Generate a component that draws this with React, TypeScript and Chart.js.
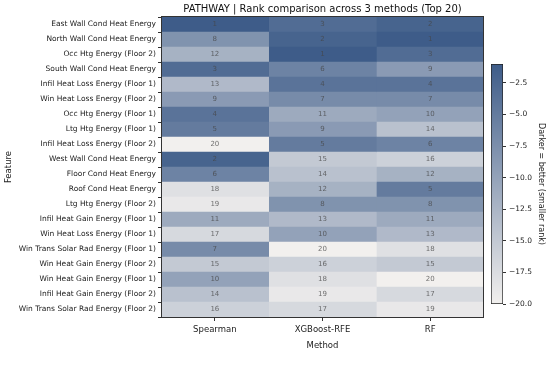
import React, { useEffect, useRef } from "react";
import { Chart, registerables } from "chart.js";

Chart.register(...registerables);

const features = [
  "East Wall Cond Heat Energy",
  "North Wall Cond Heat Energy",
  "Occ Htg Energy (Floor 2)",
  "South Wall Cond Heat Energy",
  "Infil Heat Loss Energy (Floor 1)",
  "Win Heat Loss Energy (Floor 2)",
  "Occ Htg Energy (Floor 1)",
  "Ltg Htg Energy (Floor 1)",
  "Infil Heat Loss Energy (Floor 2)",
  "West Wall Cond Heat Energy",
  "Floor Cond Heat Energy",
  "Roof Cond Heat Energy",
  "Ltg Htg Energy (Floor 2)",
  "Infil Heat Gain Energy (Floor 1)",
  "Win Heat Loss Energy (Floor 1)",
  "Win Trans Solar Rad Energy (Floor 1)",
  "Win Heat Gain Energy (Floor 2)",
  "Win Heat Gain Energy (Floor 1)",
  "Infil Heat Gain Energy (Floor 2)",
  "Win Trans Solar Rad Energy (Floor 2)",
];

const methods = ["Spearman", "XGBoost-RFE", "RF"];

const spearmanRank = [1, 8, 12, 3, 13, 9, 4, 5, 20, 2, 6, 18, 19, 11, 17, 7, 15, 10, 14, 16];
const xgbRank = [3, 2, 1, 6, 4, 7, 11, 9, 5, 15, 14, 12, 8, 13, 10, 20, 16, 18, 19, 17];
const rfRank = [2, 1, 3, 9, 4, 7, 10, 14, 6, 16, 12, 5, 8, 11, 13, 18, 15, 20, 17, 19];

const colorbarTicks = [-20, -17.5, -15, -12.5, -10, -7.5, -5, -2.5];

const LIGHT = [242, 240, 238];
const DARK = [62, 92, 137];
const VMIN = -20;
const VMAX = -1;

function colorFor(v: number): string {
  const t = Math.max(0, Math.min(1, (v - VMIN) / (VMAX - VMIN)));
  const c = LIGHT.map((l, i) => Math.round(l + (DARK[i] - l) * t));
  return `rgb(${c[0]},${c[1]},${c[2]})`;
}

const FONT = "'DejaVu Sans', sans-serif";

export default function App() {
  const mainRef = useRef<HTMLCanvasElement>(null);
  const cbRef = useRef<HTMLCanvasElement>(null);

  useEffect(() => {
    const rankSets = [spearmanRank, xgbRank, rfRank];

    const titlePlugin = {
      id: "titleAndFrame",
      afterDatasetsDraw(chart: any) {
        const { ctx, chartArea } = chart;
        ctx.save();
        chart.data.datasets.forEach((ds: any, di: number) => {
          const meta = chart.getDatasetMeta(di);
          meta.data.forEach((el: any, i: number) => {
            const p = el.getCenterPoint();
            ctx.fillStyle = "rgba(70,70,70,0.75)";
            ctx.font = `7px ${FONT}`;
            ctx.textAlign = "center";
            ctx.textBaseline = "middle";
            ctx.fillText(String(rankSets[di][i]), p.x, p.y);
          });
        });
        ctx.strokeStyle = "#333";
        ctx.lineWidth = 1;
        ctx.strokeRect(
          Math.round(chartArea.left) + 0.5,
          Math.round(chartArea.top) - 0.5,
          Math.round(chartArea.right - chartArea.left) - 1,
          Math.round(chartArea.bottom - chartArea.top) + 1
        );
        ctx.fillStyle = "#111";
        ctx.font = `10px ${FONT}`;
        ctx.textAlign = "center";
        ctx.textBaseline = "middle";
        ctx.fillText(
          "PATHWAY | Rank comparison across 3 methods (Top 20)",
          (chartArea.left + chartArea.right) / 2,
          9
        );
        ctx.restore();
      },
    };

    const main = new Chart(mainRef.current!, {
      type: "bar",
      data: {
        labels: features,
        datasets: rankSets.map((ranks, j) => ({
          label: methods[j],
          data: features.map(() => [j, j + 1]) as any,
          backgroundColor: ranks.map((r) => colorFor(-r)),
          borderWidth: 0,
          barPercentage: 1,
          categoryPercentage: 1,
          grouped: false,
        })),
      },
      options: {
        indexAxis: "y",
        animation: false,
        responsive: false,
        maintainAspectRatio: false,
        layout: { padding: { left: 4, top: 17, right: 66, bottom: 28 } },
        plugins: {
          legend: { display: false },
          tooltip: { enabled: false },
          title: { display: false },
        },
        scales: {
          x: {
            type: "linear",
            min: 0,
            max: 3,
            afterBuildTicks: (scale: any) => {
              scale.ticks = [0.5, 1.5, 2.5].map((v) => ({ value: v }));
            },
            afterFit: (scale: any) => {
              scale.height = 34;
            },
            ticks: {
              autoSkip: false,
              maxRotation: 0,
              color: "#222",
              font: { family: FONT, size: 8.5 },
              padding: 4,
              callback: (v: any) => methods[Math.floor(Number(v))] ?? "",
            },
            grid: { drawOnChartArea: false, drawTicks: true, tickLength: 4, color: "#333" },
            border: { display: false },
            title: {
              display: true,
              text: "Method",
              color: "#222",
              font: { family: FONT, size: 8.5 },
              padding: { top: 0, bottom: 0 },
            },
          },
          y: {
            type: "category",
            offset: true,
            afterFit: (scale: any) => {
              scale.width = 157;
            },
            ticks: {
              autoSkip: false,
              color: "#222",
              font: { family: FONT, size: 7.5 },
              padding: 2,
            },
            grid: { drawOnChartArea: false, drawTicks: true, tickLength: 3, color: "#333" },
            border: { display: false },
            title: {
              display: true,
              text: "Feature",
              color: "#222",
              font: { family: FONT, size: 8.5 },
              padding: { top: 0, bottom: 0 },
            },
          },
        },
      },
      plugins: [titlePlugin],
    });

    const cb = new Chart(cbRef.current!, {
      type: "bar",
      data: {
        labels: [""],
        datasets: [
          {
            data: [[VMIN, VMAX]] as any,
            backgroundColor: (ctx: any) => {
              const chart = ctx.chart;
              const ys = chart.scales?.y;
              if (!chart.chartArea || !ys) return colorFor(-10);
              const y0 = ys.getPixelForValue(VMIN);
              const y1 = ys.getPixelForValue(VMAX);
              const g = chart.ctx.createLinearGradient(0, y0, 0, y1);
              g.addColorStop(0, colorFor(VMIN));
              g.addColorStop(1, colorFor(VMAX));
              return g;
            },
            borderColor: "#222",
            borderWidth: 1,
            borderSkipped: false,
            barPercentage: 1,
            categoryPercentage: 1,
          },
        ],
      },
      options: {
        animation: false,
        responsive: false,
        maintainAspectRatio: false,
        layout: { padding: { left: 0, right: 4, top: 10, bottom: 10 } },
        plugins: { legend: { display: false }, tooltip: { enabled: false } },
        scales: {
          x: { display: false },
          y: {
            position: "right",
            min: VMIN,
            max: VMAX,
            afterBuildTicks: (scale: any) => {
              scale.ticks = colorbarTicks.map((v) => ({ value: v }));
            },
            afterFit: (scale: any) => {
              scale.width = 43;
            },
            ticks: {
              color: "#222",
              font: { family: FONT, size: 7.5 },
              padding: 3,
              callback: (v: any) => Number(v).toFixed(1).replace("-", "\u2212"),
            },
            grid: { drawOnChartArea: false, drawTicks: true, tickLength: 3, color: "#333" },
            border: { display: false },
            title: {
              display: true,
              text: "Darker = better (smaller rank)",
              color: "#222",
              font: { family: FONT, size: 8 },
              padding: { top: 0, bottom: 0 },
            },
          },
        },
      },
    });

    return () => {
      main.destroy();
      cb.destroy();
    };
  }, []);

  return (
    <div
      style={{
        position: "fixed",
        left: 0,
        top: 0,
        width: 550,
        height: 379,
        background: "#fff",
      }}
    >
      <canvas
        ref={mainRef}
        width={550}
        height={379}
        style={{ position: "absolute", left: 0, top: 0, width: 550, height: 379 }}
      />
      <canvas
        ref={cbRef}
        width={59}
        height={260}
        style={{ position: "absolute", left: 491, top: 54, width: 59, height: 260 }}
      />
    </div>
  );
}
